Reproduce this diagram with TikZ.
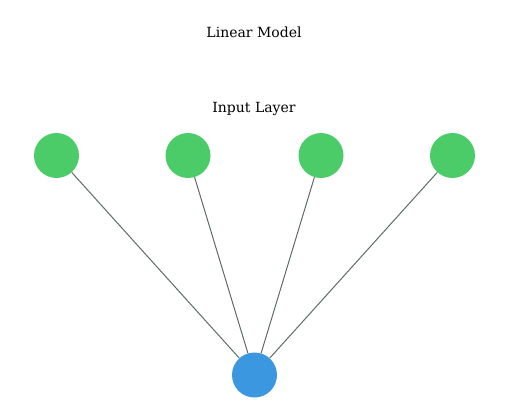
\documentclass[tikz,border=0pt]{standalone}
\usepackage{fontspec}
\setmainfont{DejaVu Serif}
\usepackage{tikz}
\usetikzlibrary{positioning}
\definecolor{inputgreen}{HTML}{4CCC69}
\definecolor{outputblue}{HTML}{3B97DF}
\definecolor{edgegray}{HTML}{5F6B62}

\begin{document}
\begin{tikzpicture}[
  x=1pt, y=-1pt,
  neuron/.style={circle, minimum size=45pt, inner sep=0pt},
  innode/.style={neuron, fill=inputgreen},
  outnode/.style={neuron, fill=outputblue},
  title/.style={font=\fontsize{14}{16}\selectfont},
  edge/.style={draw=edgegray, line width=1pt}
]
\useasboundingbox (0,0) rectangle (517,418);

% Titles
\node[title] (ttl) at (254,32) {Linear Model};
\node[title] (lyr) at (254,109) {Input Layer};

% Input neurons
\node[innode] (x1) at (56.5,155.5) {};
\node[innode] (x2) at (188,155.5) {};
\node[innode] (x3) at (321,155.5) {};
\node[innode] (x4) at (452.5,155.5) {};

% Output neuron
\node[outnode] (y) at (254.5,375) {};

% Connections
\foreach \i in {1,...,4}
  \draw[edge] (x\i) -- (y);

\end{tikzpicture}
\end{document}
